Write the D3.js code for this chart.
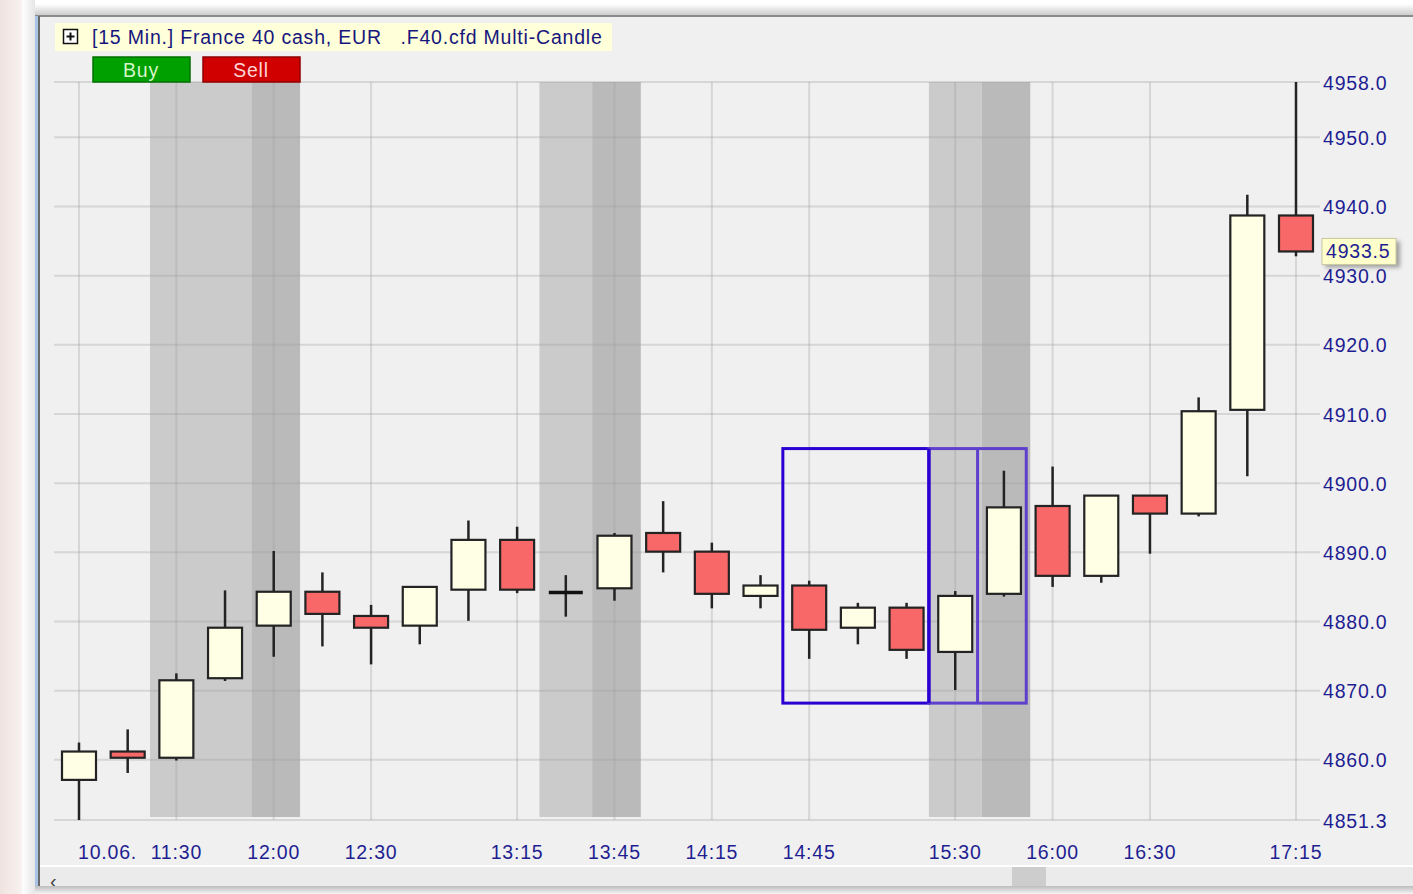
<!DOCTYPE html>
<html>
<head>
<meta charset="utf-8">
<script src="https://cdn.jsdelivr.net/npm/d3@7/dist/d3.min.js"></script>
<style>
    html, body { margin: 0; padding: 0; background: #ffffff; overflow: hidden; }
    svg { display: block; font-family: "Liberation Sans", Arial, sans-serif; }
    svg text { letter-spacing: 0.8px; }
</style>
</head>
<body>
<svg id="chart" width="1413" height="894"></svg>
<script>
// 15 minute candles, 10.06., 11:00 .. 17:15
var times  = ["11:00", "11:15", "11:30", "11:45", "12:00", "12:15", "12:30", "12:45", "13:00", "13:15",
              "13:30", "13:45", "14:00", "14:15", "14:30", "14:45", "15:00", "15:15", "15:30", "15:45",
              "16:00", "16:15", "16:30", "16:45", "17:00", "17:15"];
var opens  = [4857.1, 4861.2, 4860.3, 4871.8, 4879.4, 4884.3, 4880.8, 4879.4, 4884.6, 4891.8,
              4884.2, 4884.8, 4892.8, 4890.1, 4883.7, 4885.2, 4879.1, 4882.0, 4875.6, 4884.0,
              4896.7, 4886.6, 4898.2, 4895.6, 4910.6, 4938.7];
var highs  = [4862.5, 4864.4, 4872.5, 4884.5, 4890.2, 4887.1, 4882.4, 4885.0, 4894.6, 4893.7,
              4886.7, 4892.8, 4897.4, 4891.4, 4886.7, 4885.9, 4882.7, 4882.7, 4884.4, 4901.8,
              4902.4, 4898.2, 4898.2, 4912.4, 4941.7, 4958.0];
var lows   = [4851.3, 4858.1, 4859.9, 4871.4, 4874.9, 4876.4, 4873.8, 4876.7, 4880.1, 4884.1,
              4880.7, 4883.0, 4887.1, 4881.9, 4881.9, 4874.6, 4876.7, 4874.6, 4870.1, 4883.6,
              4885.0, 4885.6, 4889.8, 4895.2, 4901.0, 4932.8];
var closes = [4861.2, 4860.3, 4871.5, 4879.1, 4884.3, 4881.1, 4879.1, 4885.0, 4891.8, 4884.6,
              4884.2, 4892.4, 4890.1, 4884.0, 4885.2, 4878.8, 4882.0, 4875.9, 4883.7, 4896.5,
              4886.6, 4898.2, 4895.6, 4910.4, 4938.7, 4933.5];

var xTickTimes  = ["11:00", "11:30", "12:00", "12:30", "13:15", "13:45", "14:15", "14:45", "15:30", "16:00", "16:30", "17:15"];
var xTickLabels = ["10.06.", "11:30", "12:00", "12:30", "13:15", "13:45", "14:15", "14:45", "15:30", "16:00", "16:30", "17:15"];
var yTicks = [4958.0, 4950, 4940, 4930, 4920, 4910, 4900, 4890, 4880, 4870, 4860, 4851.3];

// shaded sessions: first..last candle covered, shade
var bandFrom  = ["11:30", "12:00", "13:30", "13:45", "15:30", "15:45"];
var bandTo    = ["11:45", "12:00", "13:30", "13:45", "15:30", "15:45"];
var bandShade = ["light", "dark", "light", "dark", "light", "dark"];

// multi-candle boxes: first..last candle, top/bottom price
var boxFrom   = ["14:45", "15:30"];
var boxTo     = ["15:15", "15:45"];
var boxTop    = [4905.0, 4905.0];
var boxBottom = [4868.2, 4868.2];

var lastPrice = 4933.5;

var BULL = "#ffffe6";
var BEAR = "#f86868";
var INK = "#232323";
var LABEL = "#1e1e92";

var svg = d3.select("#chart");

var x = d3.scalePoint().domain(times).range([79, 1296]);
var y = d3.scaleLinear().domain([4851.3, 4958]).range([820, 82]);
var step = x.step();

drawFrame();
drawBands();
drawGrid();
drawBoxes();
drawCandles();
drawAxes();
drawHeader();

function drawFrame()
{
    var defs = svg.append("defs");
    var g1 = defs.append("linearGradient").attr("id", "desk").attr("x1", 0).attr("x2", 1).attr("y1", 0).attr("y2", 0);
    g1.append("stop").attr("offset", "0%").attr("stop-color", "#efe3df");
    g1.append("stop").attr("offset", "50%").attr("stop-color", "#f6eeeb");
    g1.append("stop").attr("offset", "100%").attr("stop-color", "#ffffff");

    var g2 = defs.append("linearGradient").attr("id", "shadowTop").attr("x1", 0).attr("x2", 0).attr("y1", 0).attr("y2", 1);
    g2.append("stop").attr("offset", "0%").attr("stop-color", "#ffffff");
    g2.append("stop").attr("offset", "100%").attr("stop-color", "#c8c8c8");

    var g3 = defs.append("linearGradient").attr("id", "shadowBottom").attr("x1", 0).attr("x2", 0).attr("y1", 0).attr("y2", 1);
    g3.append("stop").attr("offset", "0%").attr("stop-color", "#bdbdbd");
    g3.append("stop").attr("offset", "100%").attr("stop-color", "#f4f4f4");

    var g4 = defs.append("linearGradient").attr("id", "shadowLeft").attr("x1", 0).attr("x2", 1).attr("y1", 0).attr("y2", 0);
    g4.append("stop").attr("offset", "0%").attr("stop-color", "#ffffff");
    g4.append("stop").attr("offset", "100%").attr("stop-color", "#e6e6e6");

    var f = defs.append("filter").attr("id", "tagShadow").attr("x", "-20%").attr("y", "-20%").attr("width", "150%").attr("height", "160%");
    f.append("feGaussianBlur").attr("stdDeviation", 2);

    // desktop behind the window
    svg.append("rect").attr("x", 0).attr("y", 0).attr("width", 34).attr("height", 894).attr("fill", "url(#desk)");
    svg.append("rect").attr("x", 22).attr("y", 0).attr("width", 13).attr("height", 894).attr("fill", "url(#shadowLeft)");
    svg.append("rect").attr("x", 35).attr("y", 4).attr("width", 1378).attr("height", 12).attr("fill", "url(#shadowTop)");

    // window panel
    svg.append("rect").attr("x", 35).attr("y", 15).attr("width", 1378).attr("height", 872).attr("fill", "#f0f0f0");
    svg.append("line").attr("x1", 35).attr("x2", 1413).attr("y1", 16).attr("y2", 16)
        .attr("stroke", "#8c8c8c").attr("stroke-width", 2);
    svg.append("rect").attr("x", 35).attr("y", 16).attr("width", 3).attr("height", 871).attr("fill", "#a8c3e3");
    svg.append("rect").attr("x", 38).attr("y", 16).attr("width", 2).attr("height", 871).attr("fill", "#6a6a6a");

    // scrollbar strip
    svg.append("line").attr("x1", 40).attr("x2", 1413).attr("y1", 866).attr("y2", 866)
        .attr("stroke", "#ffffff").attr("stroke-width", 2);
    svg.append("rect").attr("x", 40).attr("y", 867).attr("width", 1373).attr("height", 19).attr("fill", "#ebebeb");
    svg.append("rect").attr("x", 1012).attr("y", 867).attr("width", 34).attr("height", 19).attr("fill", "#cdcdcd");
    svg.append("text").attr("x", 50).attr("y", 888).attr("font-size", 20).attr("fill", "#444")
        .text("\u2039");
    svg.append("rect").attr("x", 35).attr("y", 886).attr("width", 1378).attr("height", 8).attr("fill", "url(#shadowBottom)");
}

function drawBands()
{
    var shade = { light: "#cbcbcb", dark: "#bababa" };
    var nudge = { light: -2, dark: 2 };
    var extra = { light: 4, dark: 0 };
    svg.append("g").attr("class", "bands")
        .selectAll("rect")
        .data(d3.range(bandFrom.length))
        .enter().append("rect")
        .attr("x", function (i) { return x(bandFrom[i]) - step / 2 + nudge[bandShade[i]]; })
        .attr("width", function (i) { return x(bandTo[i]) - x(bandFrom[i]) + step + extra[bandShade[i]]; })
        .attr("y", y(4958))
        .attr("height", y(4851.3) - y(4958) - 3)
        .attr("fill", function (i) { return shade[bandShade[i]]; });
}

function drawGrid()
{
    var grid = svg.append("g").attr("class", "grid")
        .attr("stroke", "#a0a0a0").attr("stroke-opacity", 0.32).attr("stroke-width", 2);

    grid.selectAll("line.h")
        .data(yTicks)
        .enter().append("line")
        .attr("class", "h")
        .attr("x1", 54).attr("x2", 1320)
        .attr("y1", function (d) { return y(d); })
        .attr("y2", function (d) { return y(d); });

    grid.selectAll("line.v")
        .data(xTickTimes)
        .enter().append("line")
        .attr("class", "v")
        .attr("x1", function (d) { return x(d); })
        .attr("x2", function (d) { return x(d); })
        .attr("y1", y(4958)).attr("y2", y(4851.3));
}

function drawBoxes()
{
    var colors = ["#2a00d2", "#5e40cc"];
    var g = svg.append("g").attr("class", "multi-candle").attr("fill", "none").attr("stroke-width", 3);

    g.selectAll("rect")
        .data(d3.range(boxFrom.length))
        .enter().append("rect")
        .attr("x", function (i) { return x(boxFrom[i]) - step / 2 - 2; })
        .attr("width", function (i) { return x(boxTo[i]) - x(boxFrom[i]) + step; })
        .attr("y", function (i) { return y(boxTop[i]); })
        .attr("height", function (i) { return y(boxBottom[i]) - y(boxTop[i]); })
        .attr("stroke", function (i) { return colors[i]; });

    // divider between the two candles of the second box
    g.append("line")
        .attr("x1", x(boxFrom[1]) + step / 2 - 2).attr("x2", x(boxFrom[1]) + step / 2 - 2)
        .attr("y1", y(boxTop[1])).attr("y2", y(boxBottom[1]))
        .attr("stroke", colors[1]);

    // right edge of the first box drawn again on top
    g.append("line")
        .attr("x1", x(boxTo[0]) + step / 2 - 2).attr("x2", x(boxTo[0]) + step / 2 - 2)
        .attr("y1", y(boxTop[0])).attr("y2", y(boxBottom[0]))
        .attr("stroke", colors[0]);
}

function drawCandles()
{
    var bodyW = 34;
    var candles = svg.append("g").attr("class", "candles")
        .selectAll("g")
        .data(d3.range(times.length))
        .enter().append("g");

    candles.append("line")
        .attr("x1", function (i) { return x(times[i]); })
        .attr("x2", function (i) { return x(times[i]); })
        .attr("y1", function (i) { return y(highs[i]); })
        .attr("y2", function (i) { return y(lows[i]); })
        .attr("stroke", INK).attr("stroke-width", 2.5);

    candles.filter(function (i) { return opens[i] !== closes[i]; })
        .append("rect")
        .attr("x", function (i) { return x(times[i]) - bodyW / 2; })
        .attr("width", bodyW)
        .attr("y", function (i) { return y(Math.max(opens[i], closes[i])); })
        .attr("height", function (i) { return Math.abs(y(opens[i]) - y(closes[i])); })
        .attr("fill", function (i) { return closes[i] > opens[i] ? BULL : BEAR; })
        .attr("stroke", INK).attr("stroke-width", 2.2);

    // doji
    candles.filter(function (i) { return opens[i] === closes[i]; })
        .append("line")
        .attr("x1", function (i) { return x(times[i]) - bodyW / 2; })
        .attr("x2", function (i) { return x(times[i]) + bodyW / 2; })
        .attr("y1", function (i) { return y(opens[i]); })
        .attr("y2", function (i) { return y(opens[i]); })
        .attr("stroke", "#111").attr("stroke-width", 3.5);
}

function drawAxes()
{
    var yAxis = d3.axisRight(y)
        .tickValues(yTicks)
        .tickFormat(d3.format(".1f"))
        .tickSize(0)
        .tickPadding(0);

    var ya = svg.append("g").attr("transform", "translate(1323,0)").call(yAxis);
    ya.select(".domain").remove();
    ya.selectAll("text")
        .attr("font-family", "Liberation Sans, Arial, sans-serif")
        .attr("font-size", 19.5)
        .attr("fill", LABEL)
        .attr("dy", "0.36em");

    var xa = svg.append("g").attr("class", "x-labels");
    xa.selectAll("text")
        .data(d3.range(xTickTimes.length))
        .enter().append("text")
        .attr("x", function (i) { return i === 0 ? x(xTickTimes[i]) - 1 : x(xTickTimes[i]); })
        .attr("y", 859)
        .attr("text-anchor", function (i) { return i === 0 ? "start" : "middle"; })
        .attr("font-size", 19.5)
        .attr("fill", LABEL)
        .text(function (i) { return xTickLabels[i]; });

    // last price tag
    var ty = y(lastPrice);
    svg.append("rect").attr("x", 1325).attr("y", ty - 10).attr("width", 75).attr("height", 26)
        .attr("fill", "#8a8a8a").attr("opacity", 0.8).attr("filter", "url(#tagShadow)");
    svg.append("rect").attr("x", 1322).attr("y", ty - 13).attr("width", 74).attr("height", 26)
        .attr("fill", "#ffffcc").attr("stroke", "#c8c8a0").attr("stroke-width", 1);
    svg.append("text").attr("x", 1326).attr("y", ty).attr("dy", "0.36em")
        .attr("font-size", 19.5).attr("fill", LABEL)
        .text(d3.format(".1f")(lastPrice));
}

function drawHeader()
{
    svg.append("rect").attr("x", 55).attr("y", 23).attr("width", 557).attr("height", 28).attr("fill", "#ffffd9");

    // expand icon
    svg.append("rect").attr("x", 63.5).attr("y", 29.5).attr("width", 14).attr("height", 14)
        .attr("fill", "#ffffff").attr("stroke", "#111").attr("stroke-width", 1.5);
    svg.append("path").attr("d", "M66.5,36.5h8M70.5,32.5v8").attr("stroke", "#111").attr("stroke-width", 2);

    svg.append("text").attr("x", 92).attr("y", 44)
        .attr("font-size", 19.5).attr("fill", "#16167e")
        .style("white-space", "pre")
        .text("[15 Min.] France 40 cash, EUR   .F40.cfd Multi-Candle");

    var buttons = [
        { label: "Buy",  x: 93,  fill: "#00a000", edge: "#007000", ink: "#d6f5c8" },
        { label: "Sell", x: 203, fill: "#d00000", edge: "#900000", ink: "#ffd6d6" }
    ];
    var b = svg.selectAll("g.button").data(buttons).enter().append("g").attr("class", "button");
    b.append("rect")
        .attr("x", function (d) { return d.x; }).attr("y", 57)
        .attr("width", 97).attr("height", 25)
        .attr("fill", function (d) { return d.fill; })
        .attr("stroke", function (d) { return d.edge; }).attr("stroke-width", 1.5);
    b.append("text")
        .attr("x", function (d) { return d.x + 48; }).attr("y", 77)
        .attr("text-anchor", "middle").attr("font-size", 19.5)
        .attr("fill", function (d) { return d.ink; })
        .text(function (d) { return d.label; });
}
</script>
</body>
</html>
